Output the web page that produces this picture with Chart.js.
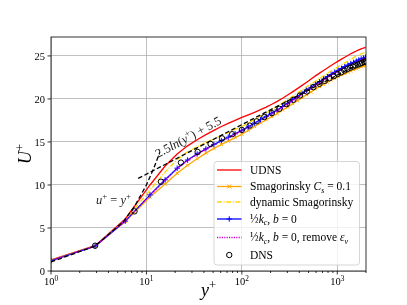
<!DOCTYPE html>
<html>
<head>
<meta charset="utf-8">
<script src="https://cdn.jsdelivr.net/npm/chart.js@4.4.1/dist/chart.umd.min.js"></script>
<style>
html,body{margin:0;padding:0;background:#fff;}
#wrap{width:407px;height:305px;position:relative;}
</style>
</head>
<body>
<div id="wrap"><canvas id="c" width="407" height="305"></canvas></div>
<script>
// ---- data ----
const yPlusLES = [1, 2.9, 6.0, 10.9, 15.7, 21, 27, 34, 42, 51, 61, 72, 85, 100, 117, 136, 157, 180, 206, 235, 267, 302, 340, 382, 428, 478, 532, 590, 652, 718, 788, 862, 940, 1022, 1108, 1198, 1290, 1385, 1482, 1580, 1680, 1780, 1880, 1980];
const uUDNS = [1.3, 2.95, 6.05, 10.0, 12.2, 13.6, 14.55, 15.25, 15.85, 16.35, 16.8, 17.15, 17.5, 17.85, 18.15, 18.45, 18.75, 19.05, 19.38, 19.72, 20.08, 20.45, 20.82, 21.2, 21.58, 21.95, 22.32, 22.68, 23.0, 23.3, 23.6, 23.88, 24.15, 24.4, 24.63, 24.85, 25.05, 25.25, 25.42, 25.57, 25.7, 25.82, 25.92, 26.0];
const uSmag = [1.25, 2.9, 5.75, 8.6, 10.1, 11.35, 12.3, 13.05, 13.7, 14.25, 14.7, 15.1, 15.5, 15.9, 16.35, 16.8, 17.2, 17.58, 17.95, 18.3, 18.7, 19.05, 19.45, 19.8, 20.15, 20.5, 20.8, 21.15, 21.42, 21.7, 21.95, 22.2, 22.4, 22.6, 22.8, 22.95, 23.1, 23.25, 23.4, 23.52, 23.63, 23.73, 23.83, 23.92];
const uDynSmag = [1.2, 2.9, 5.9, 9.4, 11.5, 12.95, 13.85, 14.45, 14.95, 15.35, 15.75, 16.1, 16.45, 16.8, 17.2, 17.6, 18.0, 18.4, 18.78, 19.15, 19.55, 19.95, 20.3, 20.68, 21.05, 21.4, 21.75, 22.05, 22.37, 22.68, 22.98, 23.25, 23.5, 23.75, 23.98, 24.2, 24.4, 24.6, 24.8, 24.97, 25.12, 25.25, 25.34, 25.4];
const uKc = [1.2, 2.9, 5.8, 8.85, 10.6, 11.95, 12.9, 13.6, 14.2, 14.7, 15.15, 15.55, 15.95, 16.35, 16.75, 17.2, 17.6, 17.98, 18.35, 18.72, 19.12, 19.5, 19.9, 20.27, 20.65, 21.0, 21.35, 21.7, 22.0, 22.3, 22.6, 22.85, 23.1, 23.32, 23.55, 23.75, 23.93, 24.1, 24.25, 24.4, 24.53, 24.65, 24.75, 24.85];
const uKcNoEps = [1.2, 2.9, 5.8, 8.8, 10.55, 11.9, 12.85, 13.55, 14.15, 14.65, 15.1, 15.5, 15.9, 16.3, 16.7, 17.15, 17.55, 17.92, 18.3, 18.66, 19.05, 19.42, 19.82, 20.18, 20.55, 20.9, 21.25, 21.6, 21.9, 22.2, 22.5, 22.75, 23.0, 23.22, 23.45, 23.65, 23.83, 24.0, 24.15, 24.3, 24.43, 24.55, 24.65, 24.75];
const yPlusDNS = [2.9, 7.5, 14.2, 23, 34.4, 47, 62, 79, 100, 121, 143, 172, 206, 247, 295, 347, 407, 479, 562, 650, 740, 830, 920, 1010, 1100, 1190, 1280, 1370, 1460, 1550, 1640, 1730, 1820, 1910, 1980];
const uDNS = [2.94, 6.93, 10.38, 12.6, 13.84, 14.77, 15.42, 15.9, 16.4, 16.9, 17.4, 17.9, 18.35, 18.85, 19.4, 19.9, 20.4, 20.86, 21.37, 21.75, 22.1, 22.4, 22.65, 22.9, 23.1, 23.3, 23.48, 23.63, 23.77, 23.9, 24.0, 24.1, 24.2, 24.3, 24.38];
const yPlusViscous = [1, 2.9, 5.8, 7.5, 10, 12, 13.8];
const uViscous = [1.05, 2.9, 5.8, 7.5, 10, 12, 13.8];
const yPlusLogLaw = [8.2, 2000];
const uLogLaw = [10.76, 24.5];
const xMajorTicks = [1, 10, 100, 1000];
const xTickExp = ['0', '1', '2', '3'];
const yTicks = [0, 5, 10, 15, 20, 25];

const pts = (xs, ys) => xs.map((x, i) => ({x: x, y: ys[i]}));
const FONT = '"Liberation Serif", "DejaVu Serif", serif';

function richWidth(ctx, segs, size) {
  let w = 0;
  for (const s of segs) {
    const st = s[1] || 'r';
    const small = st.indexOf('sub') === 0 || st.indexOf('sup') === 0;
    const it = st.indexOf('i') >= 0;
    ctx.font = (it ? 'italic ' : '') + (small ? size * 0.7 : size) + 'px ' + FONT;
    w += ctx.measureText(s[0]).width;
  }
  return w;
}
function rich(ctx, x, y, segs, size, align) {
  let w = richWidth(ctx, segs, size);
  let cx = align === 'center' ? x - w / 2 : (align === 'right' ? x - w : x);
  for (const s of segs) {
    const st = s[1] || 'r';
    const sub = st.indexOf('sub') === 0, sup = st.indexOf('sup') === 0;
    const it = st.indexOf('i') >= 0;
    const fs = (sub || sup) ? size * 0.7 : size;
    ctx.font = (it ? 'italic ' : '') + fs + 'px ' + FONT;
    const dy = sub ? size * 0.22 : (sup ? -size * 0.38 : 0);
    ctx.fillText(s[0], cx, y + dy);
    cx += ctx.measureText(s[0]).width;
  }
}

const decor = {
  id: 'decor',
  afterDraw(chart) {
    const ctx = chart.ctx, a = chart.chartArea;
    const xs = chart.scales.x, ys = chart.scales.y;
    ctx.save();
    // frame
    ctx.strokeStyle = '#000'; ctx.lineWidth = 0.8;
    ctx.strokeRect(a.left, a.top, a.right - a.left, a.bottom - a.top);
    // x ticks
    ctx.beginPath();
    for (let d = 1; d <= 1000; d *= 10) {
      for (let m = 1; m <= 9; m++) {
        const v = d * m;
        if (v > xs.max) break;
        const px = xs.getPixelForValue(v);
        const len = m === 1 ? 3.5 : 2;
        ctx.moveTo(px, a.bottom); ctx.lineTo(px, a.bottom + len);
      }
    }
    ctx.stroke();
    // y ticks
    ctx.beginPath();
    for (const v of yTicks) {
      const py = ys.getPixelForValue(v);
      ctx.moveTo(a.left, py); ctx.lineTo(a.left - 3.5, py);
    }
    ctx.stroke();
    ctx.fillStyle = '#000';
    ctx.textBaseline = 'alphabetic';
    // y tick labels
    ctx.font = '10.5px ' + FONT; ctx.textAlign = 'right';
    for (const v of yTicks) {
      const py = ys.getPixelForValue(v);
      ctx.fillText(String(v), a.left - 6, py + 3.6);
    }
    ctx.textAlign = 'left';
    // x tick labels
    xMajorTicks.forEach((v, i) => {
      const px = xs.getPixelForValue(v);
      rich(ctx, px, a.bottom + 14, [['10', 'r'], [xTickExp[i], 'sup']], 10.5, 'center');
    });
    // axis titles
    rich(ctx, (a.left + a.right) / 2, 296, [['y', 'i'], ['+', 'sup']], 18, 'center');
    ctx.save();
    ctx.translate(31, (a.top + a.bottom) / 2);
    ctx.rotate(-Math.PI / 2);
    rich(ctx, 0, 0, [['U', 'i'], ['+', 'sup']], 18, 'center');
    ctx.restore();
    // annotations
    ctx.fillStyle = '#222';
    rich(ctx, 96, 204, [['u', 'i'], ['+', 'sup'], [' = ', 'r'], ['y', 'i'], ['+', 'sup']], 12.5, 'left');
    ctx.save();
    ctx.translate(158, 158);
    ctx.rotate(-28.3 * Math.PI / 180);
    rich(ctx, 0, 0, [['2.5', 'r'], ['ln', 'i'], ['(', 'r'], ['y', 'i'], ['+', 'sup'], [') + 5.5', 'r']], 12.5, 'left');
    ctx.restore();
    // legend
    const L = {x: 214, y: 161.5, w: 145.5, h: 103.5};
    ctx.fillStyle = 'rgba(255,255,255,0.8)';
    ctx.strokeStyle = '#cccccc'; ctx.lineWidth = 0.8;
    ctx.beginPath();
    if (ctx.roundRect) ctx.roundRect(L.x, L.y, L.w, L.h, 3); else ctx.rect(L.x, L.y, L.w, L.h);
    ctx.fill(); ctx.stroke();
    const rows = [
      {y: 170, color: '#ff0000', dash: [], marker: null, label: [['UDNS', 'r']]},
      {y: 186.5, color: '#ffa500', dash: [], marker: 'x', label: [['Smagorinsky ', 'r'], ['C', 'i'], ['s', 'sub-i'], [' = 0.1', 'r']]},
      {y: 202, color: '#ffd700', dash: [5, 1.5, 1.2, 1.5], marker: null, label: [['dynamic Smagorinsky', 'r']]},
      {y: 219, color: '#0000ff', dash: [], marker: '+', label: [['\u00bd', 'r'], ['k', 'i'], ['c', 'sub-i'], [', ', 'r'], ['b', 'i'], [' = 0', 'r']]},
      {y: 237.5, color: '#cc00cc', dash: [1.2, 1.2], marker: null, label: [['\u00bd', 'r'], ['k', 'i'], ['c', 'sub-i'], [', ', 'r'], ['b', 'i'], [' = 0, remove ', 'r'], ['\u03b5', 'i'], ['\u03bd', 'sub-i']]},
      {y: 255, color: '#000000', dash: null, marker: 'o', label: [['DNS', 'r']]}
    ];
    for (const r of rows) {
      const x0 = 217, x1 = 241.5, xm = (x0 + x1) / 2;
      ctx.strokeStyle = r.color; ctx.lineWidth = 1.3;
      if (r.dash) {
        ctx.setLineDash(r.dash);
        ctx.beginPath(); ctx.moveTo(x0, r.y); ctx.lineTo(x1, r.y); ctx.stroke();
        ctx.setLineDash([]);
      }
      ctx.lineWidth = 1;
      if (r.marker === 'x') {
        ctx.beginPath(); ctx.moveTo(xm - 2, r.y - 2); ctx.lineTo(xm + 2, r.y + 2);
        ctx.moveTo(xm - 2, r.y + 2); ctx.lineTo(xm + 2, r.y - 2); ctx.stroke();
      } else if (r.marker === '+') {
        ctx.beginPath(); ctx.moveTo(xm - 2.7, r.y); ctx.lineTo(xm + 2.7, r.y);
        ctx.moveTo(xm, r.y - 2.7); ctx.lineTo(xm, r.y + 2.7); ctx.stroke();
      } else if (r.marker === 'o') {
        ctx.beginPath(); ctx.arc(xm, r.y, 2.7, 0, Math.PI * 2); ctx.stroke();
      }
      ctx.fillStyle = '#000';
      rich(ctx, 250, r.y + 3.9, r.label, 11.5, 'left');
    }
    ctx.restore();
  }
};

const common = {showLine: true, fill: false, tension: 0, borderWidth: 1.3};
new Chart(document.getElementById('c'), {
  type: 'scatter',
  data: {
    datasets: [
      Object.assign({}, common, {label: 'u+=y+', data: pts(yPlusViscous, uViscous), borderColor: '#000', borderDash: [4.5, 2.5], pointRadius: 0, order: 1}),
      Object.assign({}, common, {label: 'log law', data: pts(yPlusLogLaw, uLogLaw), borderColor: '#000', borderDash: [4.5, 2.5], pointRadius: 0, order: 2}),
      Object.assign({}, common, {label: 'DNS', data: pts(yPlusDNS, uDNS), showLine: false, borderColor: '#000', backgroundColor: 'rgba(0,0,0,0)', pointRadius: 2.7, pointBorderWidth: 1, pointStyle: 'circle', order: 3}),
      Object.assign({}, common, {label: 'kc remove', data: pts(yPlusLES, uKcNoEps), borderColor: '#cc00cc', borderDash: [1.2, 1.2], pointRadius: 0, order: 4}),
      Object.assign({}, common, {label: 'kc', data: pts(yPlusLES, uKc), borderColor: '#0000ff', pointStyle: 'cross', pointRadius: 2.7, pointBorderWidth: 1, pointBorderColor: '#0000ff', order: 5}),
      Object.assign({}, common, {label: 'dynamic', data: pts(yPlusLES, uDynSmag), borderColor: '#ffd700', borderDash: [5, 1.5, 1.2, 1.5], pointRadius: 0, order: 6}),
      Object.assign({}, common, {label: 'Smag', data: pts(yPlusLES, uSmag), borderColor: '#ffa500', pointStyle: 'crossRot', pointRadius: 2.2, pointBorderWidth: 1, pointBorderColor: '#ffa500', order: 7}),
      Object.assign({}, common, {label: 'UDNS', data: pts(yPlusLES, uUDNS), borderColor: '#ff0000', pointRadius: 0, order: 8})
    ]
  },
  options: {
    responsive: false,
    animation: false,
    layout: {padding: {left: 51, right: 41, top: 37, bottom: 34}},
    plugins: {legend: {display: false}, tooltip: {enabled: false}},
    scales: {
      x: {
        type: 'logarithmic', min: 1, max: 2000,
        afterBuildTicks: (s) => { s.ticks = xMajorTicks.map(v => ({value: v})); },
        ticks: {display: false},
        grid: {color: '#b0b0b0', lineWidth: 0.8, drawTicks: false},
        border: {display: false}
      },
      y: {
        type: 'linear', min: 0, max: 27.2,
        afterBuildTicks: (s) => { s.ticks = yTicks.map(v => ({value: v})); },
        ticks: {display: false},
        grid: {color: '#b0b0b0', lineWidth: 0.8, drawTicks: false},
        border: {display: false}
      }
    }
  },
  plugins: [decor]
});
</script>
</body>
</html>
